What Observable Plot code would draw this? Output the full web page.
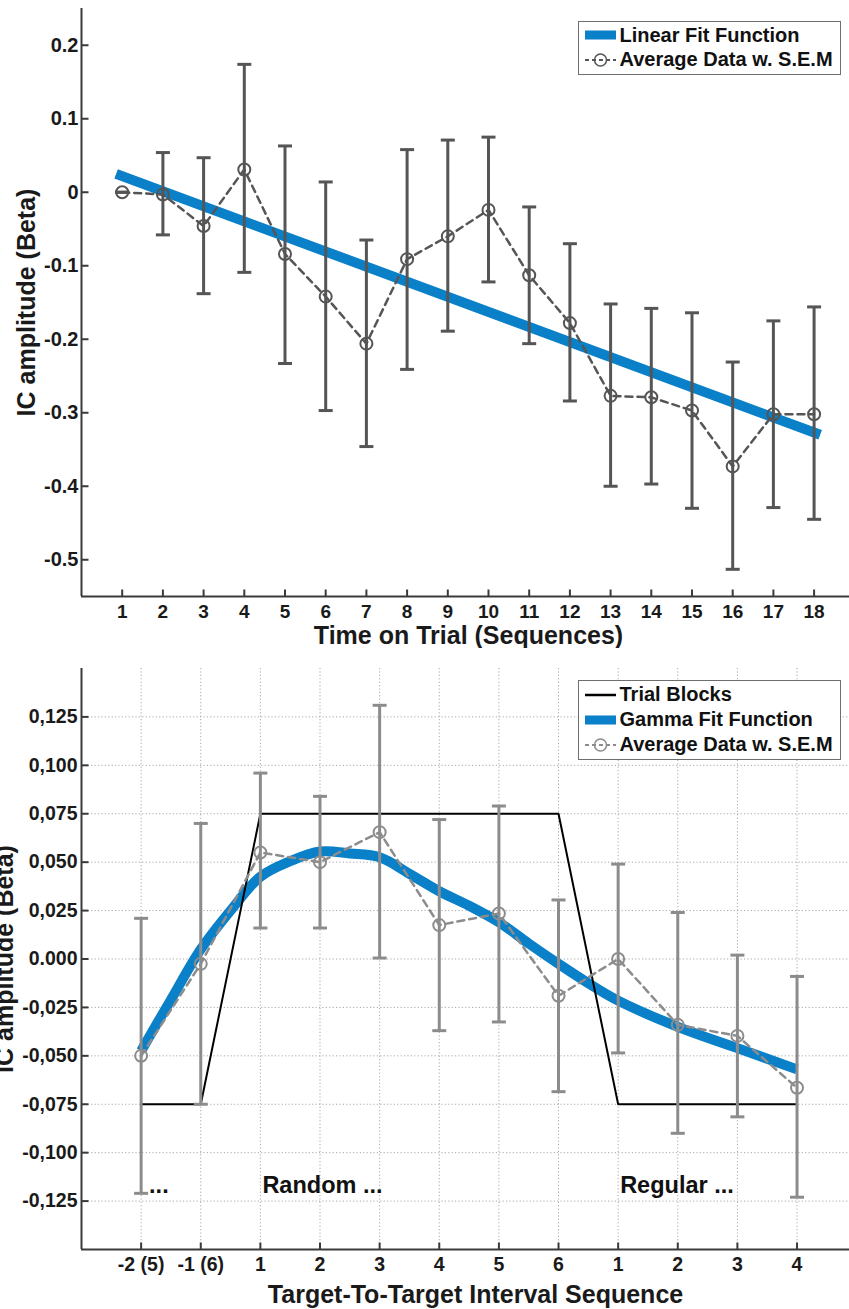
<!DOCTYPE html>
<html>
<head>
<meta charset="utf-8">
<script src="https://cdn.jsdelivr.net/npm/d3@7"></script>
<script src="https://cdn.jsdelivr.net/npm/@observablehq/plot@0.6"></script>
<style>
body{margin:0;background:#fff;font-family:"Liberation Sans",Arial,Helvetica,sans-serif;}
#wrap{position:relative;width:849px;height:1309px;overflow:hidden;background:#fff;}
#top,#bottom{position:absolute;left:0;}
#top{top:0;}
#bottom{top:650px;}
.legend{position:absolute;left:578px;width:263px;border:1.5px solid #6e6e6e;background:#fff;box-sizing:border-box;font-weight:bold;font-size:20px;color:#111;padding-top:1px;}
.row{display:flex;align-items:center;white-space:nowrap;}
.row svg{margin-left:5px;margin-right:2.5px;flex:none;}
</style>
</head>
<body>
<div id="wrap">
  <div id="top"></div>
  <div id="bottom"></div>
  <div class="legend" id="legTop" style="top:21px;height:54px;"></div>
  <div class="legend" id="legBot" style="top:680px;height:80px;"></div>
</div>
<script>
// ---------- Top chart data ----------
const topX = [1,2,3,4,5,6,7,8,9,10,11,12,13,14,15,16,17,18];
const topMean  = [0, -0.003, -0.046, 0.031, -0.084, -0.142, -0.206, -0.091, -0.060, -0.024, -0.113, -0.178, -0.277, -0.279, -0.297, -0.373, -0.302, -0.302];
const topUpper = [0, 0.054, 0.047, 0.174, 0.063, 0.014, -0.065, 0.058, 0.071, 0.075, -0.020, -0.070, -0.152, -0.158, -0.164, -0.231, -0.175, -0.156];
const topLower = [0, -0.058, -0.138, -0.109, -0.233, -0.297, -0.346, -0.241, -0.189, -0.122, -0.206, -0.284, -0.400, -0.397, -0.430, -0.513, -0.429, -0.445];
const linFitX = [0.85, 18.15];
const linFitY = [0.025, -0.330];
const topYTicks  = [-0.5, -0.4, -0.3, -0.2, -0.1, 0, 0.1, 0.2];
const topYLabels = ["-0.5", "-0.4", "-0.3", "-0.2", "-0.1", "0", "0.1", "0.2"];
const topXLabels = ["1","2","3","4","5","6","7","8","9","10","11","12","13","14","15","16","17","18"];
const topXDomain = [0, 18.87];
const topYDomain = [-0.55, 0.25];

// ---------- Bottom chart data ----------
const botX = [0,1,2,3,4,5,6,7,8,9,10,11];
const botXLabels = ["-2 (5)", "-1 (6)", "1", "2", "3", "4", "5", "6", "1", "2", "3", "4"];
const botMean  = [-0.050, -0.0025, 0.055, 0.050, 0.0655, 0.0175, 0.0235, -0.019, 0.000, -0.034, -0.0397, -0.0665];
const botUpper = [0.021, 0.070, 0.096, 0.084, 0.131, 0.072, 0.079, 0.0305, 0.049, 0.024, 0.002, -0.009];
const botLower = [-0.121, -0.075, 0.016, 0.016, 0.0005, -0.037, -0.0325, -0.0685, -0.0485, -0.090, -0.0815, -0.123];
const gammaFitX = [0, 0.5, 1, 1.5, 2, 2.5, 3, 3.5, 4, 4.5, 5, 5.5, 6, 6.5, 7, 7.5, 8, 9, 10, 11];
const gammaFitY = [-0.0475, -0.021, 0.005, 0.025, 0.0425, 0.0505, 0.0555, 0.0545, 0.0525, 0.044, 0.035, 0.0275, 0.019, 0.008, -0.0025, -0.0125, -0.0215, -0.035, -0.046, -0.057];
const blockX = [0, 1, 2, 7, 8, 11];
const blockY = [-0.075, -0.075, 0.075, 0.075, -0.075, -0.075];
const blockLabels = ["...", "Random ...", "Regular ..."];
const blockLabelX = [0.1, 2, 8];
const blockLabelY = [-0.117, -0.117, -0.117];
const botYTicks  = [-0.125, -0.1, -0.075, -0.05, -0.025, 0, 0.025, 0.05, 0.075, 0.1, 0.125];
const botYLabels = ["-0,125", "-0,100", "-0,075", "-0,050", "-0,025", "0.000", "0,025", "0,050", "0,075", "0,100", "0,125"];
const botXDomain = [-1, 11.88];
const botYDomain = [-0.15, 0.15];

// ---------- Styles ----------
const BLUE = "#0a80c8";
const DARK = "#555555";
const GRAY = "#8c8c8c";
const AXIS = "#3a3a3a";
const FONT = "'Liberation Sans', Arial, Helvetica, sans-serif";

const capSym   = {draw(ctx){ ctx.moveTo(-7, 0); ctx.lineTo(7, 0); }};
const yTickSym = {draw(ctx){ ctx.moveTo(0, 0); ctx.lineTo(7, 0); }};
const xTickSym = {draw(ctx){ ctx.moveTo(0, 0); ctx.lineTo(0, -7); }};

const topRows = topX.map((x, i) => ({x, mean: topMean[i], hi: topUpper[i], lo: topLower[i]}));
const linFit = linFitX.map((x, i) => ({x, y: linFitY[i]}));

const topChart = Plot.plot({
  width: 849, height: 648,
  marginLeft: 81, marginRight: 0, marginTop: 8, marginBottom: 52,
  x: {domain: topXDomain},
  y: {domain: topYDomain},
  style: {fontFamily: FONT, color: "#1a1a1a", background: "#fff"},
  marks: [
    Plot.line(linFit, {x: "x", y: "y", stroke: BLUE, strokeWidth: 10, strokeLinecap: "butt"}),
    Plot.ruleX(topRows, {x: "x", y1: "lo", y2: "hi", stroke: DARK, strokeWidth: 3}),
    Plot.dot(topRows, {x: "x", y: "hi", symbol: capSym, stroke: DARK, strokeWidth: 3, fill: "none"}),
    Plot.dot(topRows, {x: "x", y: "lo", symbol: capSym, stroke: DARK, strokeWidth: 3, fill: "none"}),
    Plot.line(topRows, {x: "x", y: "mean", stroke: DARK, strokeWidth: 2.5, strokeDasharray: "7,5"}),
    Plot.dot(topRows, {x: "x", y: "mean", r: 6, stroke: DARK, strokeWidth: 2, fill: "none"}),
    Plot.ruleX([topXDomain[0]], {stroke: AXIS, strokeWidth: 2}),
    Plot.ruleY([topYDomain[0]], {stroke: AXIS, strokeWidth: 2}),
    Plot.dot(topYTicks, {x: () => topXDomain[0], y: d => d, symbol: yTickSym, stroke: AXIS, strokeWidth: 2, fill: "none"}),
    Plot.dot(topX, {x: d => d, y: () => topYDomain[0], symbol: xTickSym, stroke: AXIS, strokeWidth: 2, fill: "none"}),
    Plot.axisY(topYTicks, {tickSize: 0, tickPadding: 3, label: null, fontSize: 20, fontWeight: "bold",
      tickFormat: d => topYLabels[topYTicks.indexOf(d)]}),
    Plot.axisX(topX, {tickSize: 0, tickPadding: 8, label: null, fontSize: 19, fontWeight: "bold",
      tickFormat: d => topXLabels[topX.indexOf(d)]}),
    Plot.text(["Time on Trial (Sequences)"], {text: d => d, frameAnchor: "bottom", textAnchor: "middle", dy: 39, dx: 3, lineAnchor: "middle",
      fontSize: 25, fontWeight: "bold"}),
    Plot.text(["IC amplitude (Beta)"], {text: d => d, frameAnchor: "left", textAnchor: "middle", rotate: -90, dx: -55, lineAnchor: "middle",
      fontSize: 25, fontWeight: "bold"})
  ]
});
document.getElementById("top").appendChild(topChart);

const botRows = botX.map((x, i) => ({x, mean: botMean[i], hi: botUpper[i], lo: botLower[i]}));
const gammaFit = gammaFitX.map((x, i) => ({x, y: gammaFitY[i]}));
const blocks = blockX.map((x, i) => ({x, y: blockY[i]}));
const labels = blockLabels.map((t, i) => ({t, x: blockLabelX[i], y: blockLabelY[i]}));

const botChart = Plot.plot({
  width: 849, height: 659,
  marginLeft: 81, marginRight: 0, marginTop: 18, marginBottom: 60,
  x: {domain: botXDomain},
  y: {domain: botYDomain},
  style: {fontFamily: FONT, color: "#1a1a1a", background: "#fff"},
  marks: [
    Plot.ruleX(botX, {x: d => d, stroke: "#a8a8a8", strokeWidth: 1, strokeDasharray: "1.2,2.2"}),
    Plot.ruleY(botYTicks, {y: d => d, stroke: "#a8a8a8", strokeWidth: 1, strokeDasharray: "1.2,2.2"}),
    Plot.line(gammaFit, {x: "x", y: "y", stroke: BLUE, strokeWidth: 10, curve: "catmull-rom", strokeLinecap: "butt"}),
    Plot.line(blocks, {x: "x", y: "y", stroke: "#000", strokeWidth: 2}),
    Plot.ruleX(botRows, {x: "x", y1: "lo", y2: "hi", stroke: GRAY, strokeWidth: 3}),
    Plot.dot(botRows, {x: "x", y: "hi", symbol: capSym, stroke: GRAY, strokeWidth: 3, fill: "none"}),
    Plot.dot(botRows, {x: "x", y: "lo", symbol: capSym, stroke: GRAY, strokeWidth: 3, fill: "none"}),
    Plot.line(botRows, {x: "x", y: "mean", stroke: GRAY, strokeWidth: 2.5, strokeDasharray: "7,5"}),
    Plot.dot(botRows, {x: "x", y: "mean", r: 6, stroke: GRAY, strokeWidth: 2, fill: "none"}),
    Plot.text(labels, {x: "x", y: "y", text: "t", textAnchor: "start", dx: 2, lineAnchor: "middle",
      fontSize: 23.5, fontWeight: "bold", fill: "#111"}),
    Plot.ruleX([botXDomain[0]], {stroke: AXIS, strokeWidth: 2}),
    Plot.ruleY([botYDomain[0]], {stroke: AXIS, strokeWidth: 2}),
    Plot.dot(botYTicks, {x: () => botXDomain[0], y: d => d, symbol: yTickSym, stroke: AXIS, strokeWidth: 2, fill: "none"}),
    Plot.dot(botX, {x: d => d, y: () => botYDomain[0], symbol: xTickSym, stroke: AXIS, strokeWidth: 2, fill: "none"}),
    Plot.axisY(botYTicks, {tickSize: 0, tickPadding: 4, label: null, fontSize: 19.5, fontWeight: "bold",
      tickFormat: d => botYLabels[botYTicks.indexOf(d)]}),
    Plot.axisX(botX, {tickSize: 0, tickPadding: 8, label: null, fontSize: 19.5, fontWeight: "bold",
      tickFormat: d => botXLabels[botX.indexOf(d)]}),
    Plot.text(["Target-To-Target Interval Sequence"], {text: d => d, frameAnchor: "bottom", textAnchor: "middle", dy: 45, dx: 10, lineAnchor: "middle",
      fontSize: 25, fontWeight: "bold"}),
    Plot.text(["IC amplitude (Beta)"], {text: d => d, frameAnchor: "left", textAnchor: "middle", rotate: -90, dx: -77, lineAnchor: "middle",
      fontSize: 25, fontWeight: "bold"})
  ]
});
document.getElementById("bottom").appendChild(botChart);

// ---------- Legends ----------
const legTopItems = ["Linear Fit Function", "Average Data w. S.E.M"];
const legBotItems = ["Trial Blocks", "Gamma Fit Function", "Average Data w. S.E.M"];
function swatch(kind, color) {
  if (kind === "bar") return `<svg width="33" height="20"><rect x="1" y="5.5" width="31" height="9" fill="${color}"/></svg>`;
  if (kind === "line") return `<svg width="33" height="20"><line x1="1" x2="32" y1="10" y2="10" stroke="${color}" stroke-width="2.5"/></svg>`;
  return `<svg width="33" height="20"><line x1="1" x2="32" y1="10" y2="10" stroke="${color}" stroke-width="2" stroke-dasharray="4,3"/><circle cx="16.5" cy="10" r="6" fill="none" stroke="${color}" stroke-width="1.5"/></svg>`;
}
document.getElementById("legTop").innerHTML =
  `<div class="row" style="height:24.5px">${swatch("bar", BLUE)}<span>${legTopItems[0]}</span></div>` +
  `<div class="row" style="height:24.5px">${swatch("avg", DARK)}<span>${legTopItems[1]}</span></div>`;
document.getElementById("legBot").innerHTML =
  `<div class="row" style="height:25px">${swatch("line", "#000")}<span>${legBotItems[0]}</span></div>` +
  `<div class="row" style="height:25px">${swatch("bar", BLUE)}<span>${legBotItems[1]}</span></div>` +
  `<div class="row" style="height:25px">${swatch("avg", GRAY)}<span>${legBotItems[2]}</span></div>`;
</script>
</body>
</html>
